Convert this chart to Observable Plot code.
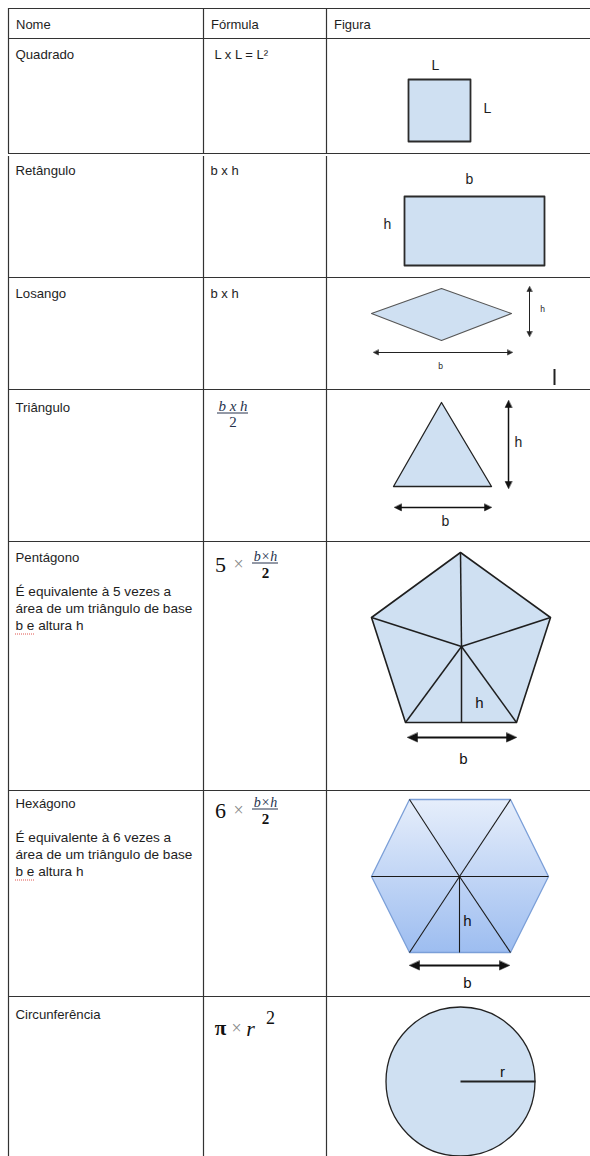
<!DOCTYPE html>
<html>
<head>
<meta charset="utf-8">
<script src="https://cdn.jsdelivr.net/npm/d3@7"></script>
<script src="https://cdn.jsdelivr.net/npm/@observablehq/plot@0.6"></script>
<style>
  html, body { margin: 0; padding: 0; background: #fff; }
  svg { display: block; }
</style>
</head>
<body>
<div id="chart"></div>
<script>
// ---------- table content ----------
const headers = ["Nome", "Fórmula", "Figura"];
const names = ["Quadrado", "Retângulo", "Losango", "Triângulo", "Pentágono", "Hexágono", "Circunferência"];
const nameRowY = [54, 170, 293, 407, 557, 803, 1014];
const pentagonNote = ["É equivalente à 5 vezes a", "área de um triângulo de base", "b e altura h"];
const hexagonNote = ["É equivalente à 6 vezes a", "área de um triângulo de base", "b e altura h"];
const simpleFormulas = ["L x L = L²", "b x h", "b x h"];

// table grid (page units)
const rowLines = [8, 38, 153, 277, 389, 541, 790, 996];
const colLines = [8, 203, 326];
const gridSpans = [[8, 153], [156, 1156]];

// ---------- figures (vertices in page units) ----------
const square = [[408, 79], [470, 79], [470, 141], [408, 141]];
const rectangle = [[404, 196], [544, 196], [544, 265], [404, 265]];
const rhombus = [[371, 313], [441, 288], [511, 313], [441, 340]];
const triangle = [[441, 402], [491, 486], [393, 486]];
const pentagon = [[460, 552], [550, 617], [516, 722], [405, 722], [371, 617]];
const pentagonCenter = [461, 646];
const hexagon = [[409, 799], [510, 799], [548, 876], [510, 952], [409, 952], [371, 876]];
const hexagonCenter = [459, 876];
const circle = [{cx: 460, cy: 1081, r: 74.5, rx: 535}];

// double-headed dimension arrows [x1, y1, x2, y2]
const arrowsThin = [[529, 286, 529, 336], [373, 352, 512, 352]];
const arrowsMid = [[508, 400, 508, 488], [394, 507, 491, 507]];
const arrowsBold = [[407, 737, 516, 737], [409, 965, 509, 965]];

// figure labels [text, x, y]
const labelsMid = [["L", 435, 65], ["L", 487, 108], ["b", 469, 179], ["h", 387, 224],
                   ["h", 518, 442], ["b", 445, 521]];
const labelsSmall = [["h", 542, 309], ["b", 440, 366]];
const labelsBig = [["h", 479, 703], ["b", 463, 759], ["h", 467, 921], ["b", 467, 983], ["r", 502, 1072]];

// ---------- helpers ----------
const poly = (id, pts) => pts.map(([x, y]) => ({id, x, y}));
function arrowParts(list, len, half) {
  const shafts = [], heads = [];
  list.forEach(([x1, y1, x2, y2], i) => {
    const dx = x2 - x1, dy = y2 - y1, L = Math.hypot(dx, dy), ux = dx / L, uy = dy / L, px = -uy, py = ux;
    shafts.push({x1: x1 + ux * len * 0.6, y1: y1 + uy * len * 0.6, x2: x2 - ux * len * 0.6, y2: y2 - uy * len * 0.6});
    const head = (tx, ty, s, k) => heads.push(...poly(`${len}-${i}-${k}`, [
      [tx, ty],
      [tx - s * ux * len + px * half, ty - s * uy * len + py * half],
      [tx - s * ux * len - px * half, ty - s * uy * len - py * half]
    ]));
    head(x2, y2, 1, "a");
    head(x1, y1, -1, "b");
  });
  return {shafts, heads};
}
const aThin = arrowParts(arrowsThin, 5, 2.6);
const aMid = arrowParts(arrowsMid, 7, 3.4);
const aBold = arrowParts(arrowsBold, 10, 4.6);

const pentSpokes = pentagon.map(([x, y]) => ({x1: pentagonCenter[0], y1: pentagonCenter[1], x2: x, y2: y}))
  .concat([{x1: pentagonCenter[0], y1: pentagonCenter[1], x2: pentagonCenter[0], y2: pentagon[2][1]}]);
const hexSpokes = hexagon.map(([x, y]) => ({x1: hexagonCenter[0], y1: hexagonCenter[1], x2: x, y2: y}))
  .concat([{x1: hexagonCenter[0], y1: hexagonCenter[1], x2: hexagonCenter[0], y2: hexagon[3][1]}]);

const SANS = "Liberation Sans, Arial, sans-serif";
const SERIF = "Liberation Serif, Times New Roman, serif";
const INK = "#1e1e1e";
const NAVY = "#26324d";
const FILL = "#cfe0f2";

const hLines = rowLines.map(y => ({y, x1: colLines[0], x2: 590}));
const vLines = colLines.flatMap(x => gridSpans.map(([y1, y2]) => ({x, y1, y2})));

const nameRows = names.map((n, i) => ({text: n, y: nameRowY[i]}));
const noteRows = pentagonNote.map((t, i) => ({text: t, y: 591.5 + i * 17}))
  .concat(hexagonNote.map((t, i) => ({text: t, y: 837.5 + i * 17})));
const headerRows = headers.map((h, i) => ({text: h, x: colLines[i] + 7.5, y: 24}));
const simpleFormulaRows = simpleFormulas.map((t, i) => ({text: t, x: i === 0 ? 214 : 210, y: nameRowY[i]}));

const toLabel = a => a.map(([text, x, y]) => ({text, x, y}));

const svg = Plot.plot({
  width: 590,
  height: 1156,
  margin: 0,
  x: {domain: [0, 590], range: [0, 590], axis: null},
  y: {domain: [0, 1156], range: [0, 1156], axis: null},
  style: {background: "#fff"},
  marks: [
    // grid
    Plot.ruleY(hLines, {y: "y", x1: "x1", x2: "x2", stroke: "#333", strokeWidth: 1.2}),
    Plot.ruleX(vLines, {x: "x", y1: "y1", y2: "y2", stroke: "#333", strokeWidth: 1.2}),

    // header + names + notes
    Plot.text(headerRows, {x: "x", y: "y", text: "text", textAnchor: "start", fontFamily: SANS, fontSize: 13, fill: INK}),
    Plot.text(nameRows, {x: 15, y: "y", text: "text", textAnchor: "start", fontFamily: SANS, fontSize: 13.2, fill: INK}),
    Plot.text(noteRows, {x: 15, y: "y", text: "text", textAnchor: "start", fontFamily: SANS, fontSize: 13.6, fill: INK}),
    Plot.ruleY([633.5, 879.5], {x1: 15, x2: 34, stroke: "#e0554f", strokeWidth: 1, strokeDasharray: "1,1"}),

    // formulas
    Plot.text(simpleFormulaRows, {x: "x", y: "y", text: "text", textAnchor: "start", fontFamily: SANS, fontSize: 13, fill: INK}),
    // triangle fraction
    Plot.text(["b x h"], {x: 232.5, y: 406, text: d => d, fontFamily: SERIF, fontStyle: "italic", fontSize: 15, fill: NAVY}),
    Plot.ruleY([412.5], {x1: 217, x2: 248, stroke: NAVY, strokeWidth: 1}),
    Plot.text(["2"], {x: 232.5, y: 421.5, text: d => d, fontFamily: SERIF, fontSize: 15, fill: NAVY}),
    // pentagon / hexagon formulas
    Plot.text([{t: "5", y: 564}, {t: "6", y: 810}], {x: 220, y: "y", text: "t", fontFamily: SERIF, fontSize: 22, fill: "#111"}),
    Plot.text([{y: 564}, {y: 810}], {x: 238, y: "y", text: () => "×", fontFamily: SERIF, fontSize: 18, fill: "#888"}),
    Plot.text([{y: 556.5}, {y: 802.5}], {x: 265, y: "y", text: () => "b×h", fontFamily: SERIF, fontStyle: "italic", fontSize: 14, fill: NAVY}),
    Plot.ruleY([562.5, 808.5], {x1: 252, x2: 278, stroke: NAVY, strokeWidth: 1}),
    Plot.text([{y: 573}, {y: 819}], {x: 265, y: "y", text: () => "2", fontFamily: SERIF, fontWeight: "bold", fontSize: 15, fill: "#111"}),
    // circle formula
    Plot.text(["π"], {x: 220, y: 1028, text: d => d, fontFamily: SERIF, fontWeight: "bold", fontSize: 21, fill: "#111"}),
    Plot.text(["×"], {x: 236, y: 1028, text: d => d, fontFamily: SERIF, fontSize: 18, fill: "#888"}),
    Plot.text(["r"], {x: 250, y: 1028, text: d => d, fontFamily: SERIF, fontStyle: "italic", fontSize: 22, fill: "#111"}),
    Plot.text(["2"], {x: 270, y: 1018, text: d => d, fontFamily: SERIF, fontSize: 18, fill: "#111"}),

    // figures
    Plot.line(poly("sq", square), {x: "x", y: "y", z: "id", curve: "linear-closed", fill: FILL, stroke: "#2b2b2b", strokeWidth: 1.8}),
    Plot.line(poly("re", rectangle), {x: "x", y: "y", z: "id", curve: "linear-closed", fill: FILL, stroke: "#2b2b2b", strokeWidth: 1.8}),
    Plot.line(poly("rh", rhombus), {x: "x", y: "y", z: "id", curve: "linear-closed", fill: FILL, stroke: "#555", strokeWidth: 1.1}),
    Plot.line(poly("tr", triangle), {x: "x", y: "y", z: "id", curve: "linear-closed", fill: FILL, stroke: "#222", strokeWidth: 1.3}),
    Plot.line(poly("pe", pentagon), {x: "x", y: "y", z: "id", curve: "linear-closed", fill: FILL, stroke: "#1f1f1f", strokeWidth: 1.6}),
    Plot.link(pentSpokes, {x1: "x1", y1: "y1", x2: "x2", y2: "y2", stroke: "#1f1f1f", strokeWidth: 1.5}),
    Plot.line(poly("hx", hexagon), {x: "x", y: "y", z: "id", curve: "linear-closed", fill: "url(#hexfill)", stroke: "#7b9fd8", strokeWidth: 1.3}),
    Plot.link(hexSpokes, {x1: "x1", y1: "y1", x2: "x2", y2: "y2", stroke: "#1a1a1a", strokeWidth: 1.1}),
    Plot.dot(circle, {x: "cx", y: "cy", r: 74.5, fill: FILL, stroke: "#222", strokeWidth: 1.3}),
    Plot.link(circle, {x1: "cx", y1: "cy", x2: "rx", y2: "cy", stroke: "#222", strokeWidth: 2}),

    // small cursor bar in losango cell
    Plot.ruleX([554], {y1: 369, y2: 385, stroke: "#222", strokeWidth: 2}),

    // arrows
    Plot.link(aThin.shafts, {x1: "x1", y1: "y1", x2: "x2", y2: "y2", stroke: "#222", strokeWidth: 1}),
    Plot.line(aThin.heads, {x: "x", y: "y", z: "id", curve: "linear-closed", fill: "#222", stroke: "#222", strokeWidth: 0.5}),
    Plot.link(aMid.shafts, {x1: "x1", y1: "y1", x2: "x2", y2: "y2", stroke: "#111", strokeWidth: 1.5}),
    Plot.line(aMid.heads, {x: "x", y: "y", z: "id", curve: "linear-closed", fill: "#111", stroke: "#111", strokeWidth: 0.5}),
    Plot.link(aBold.shafts, {x1: "x1", y1: "y1", x2: "x2", y2: "y2", stroke: "#111", strokeWidth: 2.2}),
    Plot.line(aBold.heads, {x: "x", y: "y", z: "id", curve: "linear-closed", fill: "#111", stroke: "#111", strokeWidth: 0.5}),

    // figure labels
    Plot.text(toLabel(labelsMid), {x: "x", y: "y", text: "text", fontFamily: SANS, fontSize: 14, fill: INK}),
    Plot.text(toLabel(labelsSmall), {x: "x", y: "y", text: "text", fontFamily: SANS, fontSize: 8.5, fill: INK}),
    Plot.text(toLabel(labelsBig), {x: "x", y: "y", text: "text", fontFamily: SANS, fontSize: 15, fill: "#111"})
  ]
});

const defs = d3.select(svg).insert("defs", ":first-child");
const grad = defs.append("linearGradient").attr("id", "hexfill")
  .attr("x1", 0).attr("y1", 0).attr("x2", 0).attr("y2", 1);
grad.append("stop").attr("offset", "0%").attr("stop-color", "#e6eefb");
grad.append("stop").attr("offset", "100%").attr("stop-color", "#9dbdf0");

document.getElementById("chart").appendChild(svg);
</script>
</body>
</html>
